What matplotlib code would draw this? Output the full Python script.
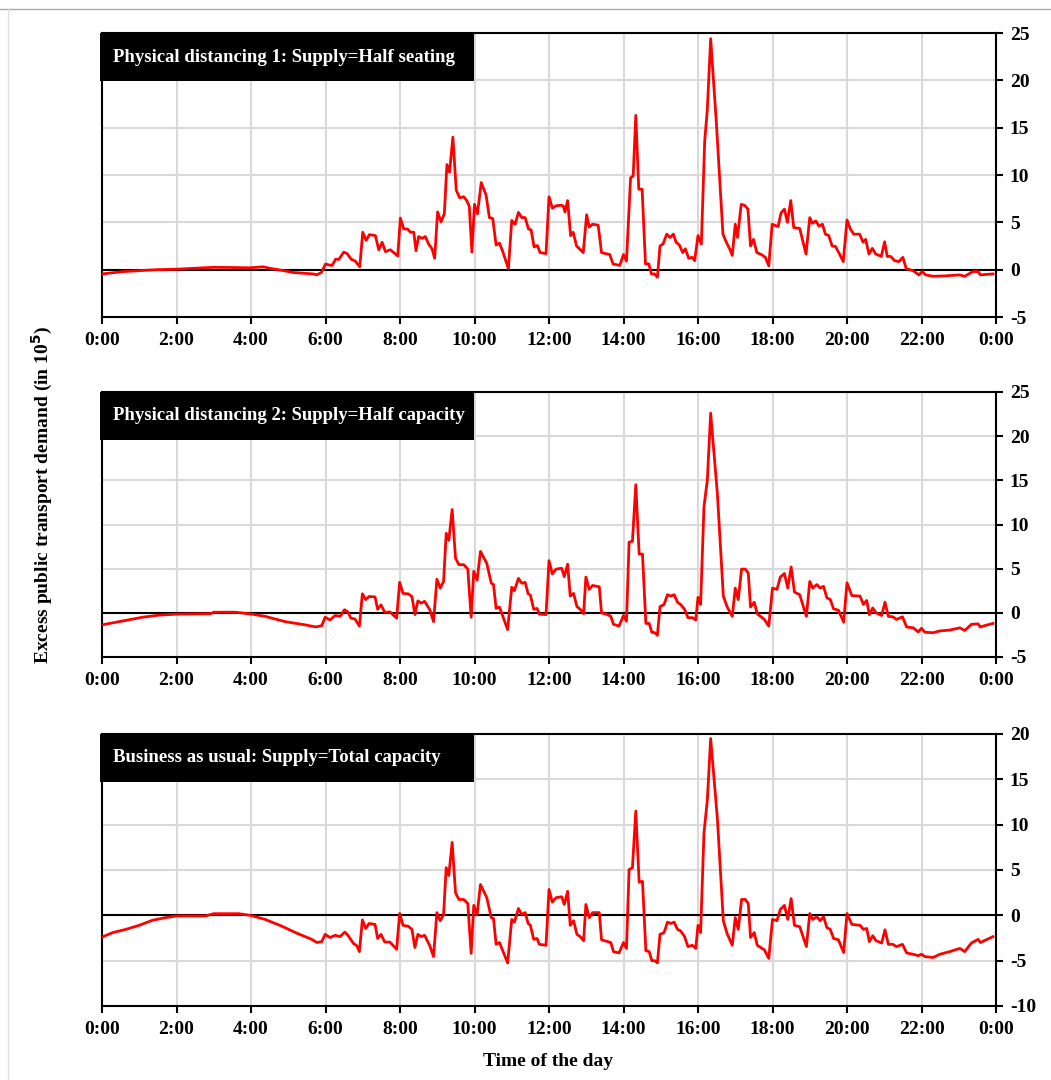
import matplotlib
matplotlib.use("Agg")
import matplotlib.pyplot as plt
from matplotlib.patches import Rectangle
from matplotlib.lines import Line2D

plt.rcParams['font.family'] = ['Liberation Serif', 'DejaVu Serif']
plt.rcParams['font.weight'] = 'bold'
plt.rcParams['axes.unicode_minus'] = False

# ---- data (hours of the day, excess demand in 10^5) ----
titles = ["Physical distancing 1: Supply=Half seating",
          "Physical distancing 2: Supply=Half capacity",
          "Business as usual: Supply=Total capacity"]

t1 = [0, 0.58, 1.47, 2.0, 3.0, 3.97, 4.33, 4.5, 4.87, 5.13, 5.67, 5.76, 5.89,
      6.0, 6.09, 6.18, 6.27, 6.36, 6.49, 6.58, 6.69, 6.8, 6.92, 7.0, 7.09, 7.18,
      7.34, 7.43, 7.52, 7.61, 7.74, 7.85, 7.94, 8.01, 8.1, 8.2, 8.28, 8.37, 8.43,
      8.5, 8.59, 8.68, 8.77, 8.86, 8.93, 9.01, 9.1, 9.19, 9.26, 9.33, 9.42, 9.51,
      9.6, 9.71, 9.79, 9.86, 9.93, 10.0, 10.08, 10.18, 10.31, 10.4, 10.49, 10.58,
      10.67, 10.76, 10.91, 11.0, 11.09, 11.18, 11.27, 11.36, 11.45, 11.52, 11.6,
      11.69, 11.76, 11.92, 12.0, 12.09, 12.19, 12.31, 12.38, 12.43, 12.5, 12.58,
      12.65, 12.74, 12.92, 13.01, 13.08, 13.17, 13.32, 13.41, 13.63, 13.72, 13.9,
      14.0, 14.08, 14.19, 14.26, 14.33, 14.41, 14.5, 14.59, 14.68, 14.75, 14.83,
      14.91, 14.98, 15.06, 15.16, 15.25, 15.34, 15.41, 15.5, 15.59, 15.66, 15.75,
      15.84, 15.91, 16.0, 16.09, 16.18, 16.25, 16.34, 16.49, 16.67, 16.76, 16.85,
      16.92, 17.0, 17.06, 17.16, 17.25, 17.34, 17.41, 17.49, 17.58, 17.7, 17.81,
      17.9, 17.99, 18.15, 18.23, 18.32, 18.4, 18.49, 18.57, 18.73, 18.9, 19.0,
      19.07, 19.16, 19.25, 19.34, 19.42, 19.51, 19.6, 19.69, 19.78, 19.9, 20.0,
      20.09, 20.18, 20.34, 20.43, 20.5, 20.59, 20.68, 20.77, 20.92, 21.01, 21.08,
      21.17, 21.28, 21.39, 21.5, 21.59, 21.77, 21.93, 22.02, 22.11, 22.31, 22.67,
      23.02, 23.16, 23.38, 23.52, 23.58, 23.92]
v1 = [-0.45, -0.2, 0.0, 0.05, 0.25, 0.2, 0.3, 0.15, -0.1, -0.3, -0.45, -0.55, -0.3,
      0.6, 0.5, 0.45, 1.1, 1.1, 1.85, 1.7, 1.1, 0.9, 0.3, 3.95, 3.1, 3.7,
      3.6, 2.1, 2.9, 1.9, 2.1, 1.75, 1.45, 5.45, 4.3, 4.3, 3.95, 3.95, 2.0,
      3.5, 3.3, 3.5, 2.7, 2.2, 1.2, 6.1, 5.05, 5.9, 11.1, 10.3, 14.0, 8.4,
      7.6, 7.7, 7.3, 6.7, 1.85, 6.9, 5.9, 9.2, 7.9, 5.5, 5.4, 2.6,
      2.8, 1.9, 0.1, 5.2, 4.8, 6.05, 5.5, 5.5, 4.3, 4.2, 2.4,
      2.55, 1.8, 1.7, 7.7, 6.5, 6.75, 6.8, 6.75, 6.1, 7.3, 3.6,
      3.95, 2.5, 1.8, 5.8, 4.5, 4.8, 4.7, 1.8, 1.6, 0.6, 0.45,
      1.6, 0.9, 9.7, 9.9, 16.3, 8.5, 8.5, 0.6, 0.6, -0.45, -0.45,
      -0.8, 2.5, 2.7, 3.75, 3.4, 3.75, 2.9, 2.6, 1.8, 2.2, 1.2,
      1.3, 0.95, 3.6, 2.7, 13.6, 16.9, 24.4, 15.7, 3.75, 2.9, 2.2,
      1.5, 4.8, 3.4, 6.9, 6.8, 6.4, 2.5, 3.2, 1.8, 1.6, 1.3,
      0.4, 4.8, 4.55, 6.0, 6.4, 5.0, 7.3, 4.45, 4.35, 1.65, 5.5,
      4.9, 5.15, 4.6, 4.8, 3.75, 3.6, 2.5, 2.45, 1.8, 0.85, 5.25,
      4.3, 3.75, 3.75, 2.9, 3.2, 1.65, 2.25, 1.65, 1.4, 2.95, 1.4,
      1.4, 0.95, 0.85, 1.3, 0.1, -0.1, -0.55, -0.2, -0.55, -0.7, -0.65,
      -0.55, -0.7, -0.2, -0.2, -0.55, -0.45]

t2 = [0, 0.46, 1.09, 1.53, 2.0, 2.91, 3.0, 3.58, 4.03, 4.38, 4.92, 5.45, 5.74,
      5.9, 5.99, 6.12, 6.26, 6.39, 6.51, 6.6, 6.68, 6.79, 6.91, 6.99, 7.08, 7.17,
      7.33, 7.4, 7.49, 7.59, 7.73, 7.91, 7.99, 8.08, 8.22, 8.32, 8.4, 8.48, 8.57,
      8.66, 8.8, 8.9, 8.99, 9.08, 9.17, 9.24, 9.31, 9.4, 9.49, 9.58, 9.71, 9.82,
      9.91, 9.98, 10.07, 10.16, 10.33, 10.45, 10.51, 10.58, 10.67, 10.89, 11.0,
      11.07, 11.18, 11.27, 11.36, 11.44, 11.5, 11.59, 11.68, 11.74, 11.92, 12.0,
      12.09, 12.19, 12.34, 12.41, 12.5, 12.57, 12.66, 12.75, 12.84, 12.93, 12.99,
      13.08, 13.17, 13.35, 13.41, 13.57, 13.66, 13.73, 13.88, 14.0, 14.08, 14.15,
      14.24, 14.33, 14.42, 14.51, 14.6, 14.69, 14.76, 14.84, 14.91, 14.98, 15.09,
      15.18, 15.27, 15.36, 15.45, 15.53, 15.64, 15.73, 15.85, 15.94, 16.0, 16.07,
      16.16, 16.25, 16.34, 16.52, 16.68, 16.78, 16.92, 17.0, 17.08, 17.17, 17.27,
      17.35, 17.41, 17.51, 17.59, 17.78, 17.9, 18.0, 18.12, 18.21, 18.32, 18.41,
      18.5, 18.59, 18.73, 18.91, 19.0, 19.08, 19.19, 19.28, 19.37, 19.46, 19.55,
      19.64, 19.77, 19.91, 20.0, 20.13, 20.35, 20.44, 20.53, 20.6, 20.69, 20.78,
      20.93, 21.02, 21.11, 21.23, 21.33, 21.49, 21.6, 21.78, 21.91, 22.0, 22.09,
      22.31, 22.49, 22.76, 23.03, 23.16, 23.34, 23.52, 23.58, 23.74, 23.92]
v2 = [-1.36, -1.0, -0.5, -0.26, -0.15, -0.1, 0.07, 0.07, -0.15, -0.4, -1.0, -1.36, -1.6,
      -1.45, -0.5, -0.8, -0.3, -0.4, 0.35, 0.1, -0.6, -0.7, -1.5, 2.15, 1.5, 1.85,
      1.8, 0.4, 0.9, 0.05, 0.1, -0.6, 3.45, 2.2, 2.15, 1.85, -0.2, 1.35, 1.1,
      1.3, 0.35, -1.0, 3.8, 2.8, 3.55, 9.0, 8.2, 11.7, 6.2, 5.45, 5.45, 4.95,
      -0.5, 4.7, 3.7, 6.95, 5.6, 3.35, 3.2, 0.5, 0.65, -1.9, 2.9,
      2.5, 3.9, 3.35, 3.45, 2.15, 2.0, 0.4, 0.5, -0.15, -0.2, 5.9,
      4.4, 4.95, 5.05, 4.1, 5.5, 1.9, 2.2, 0.7, 0.4, -0.1, 4.05,
      2.65, 3.1, 2.95, 0.0, -0.2, -0.4, -1.3, -1.5, -0.3, -0.95, 8.0,
      8.1, 14.5, 6.65, 6.65, -1.2, -1.2, -2.2, -2.25, -2.55, 0.7, 0.95,
      2.05, 1.9, 2.05, 1.2, 0.95, 0.4, -0.55, -0.55, -0.8, 1.75, 0.95,
      12.0, 15.0, 22.6, 13.5, 1.9, 0.7, -0.4, 2.8, 1.5, 4.95, 4.95,
      4.5, 0.65, 1.2, -0.1, -0.75, -1.5, 2.8, 2.65, 4.05, 4.45, 2.8,
      5.2, 2.35, 2.05, -0.4, 3.55, 2.8, 3.2, 2.8, 3.0, 1.7, 1.5,
      0.45, 0.3, -1.05, 3.4, 1.95, 1.9, 0.95, 1.4, -0.2, 0.55, 0.0,
      -0.3, 1.2, -0.4, -0.45, -0.75, -0.45, -1.6, -1.7, -2.15, -1.75, -2.2,
      -2.25, -2.05, -1.95, -1.7, -2.0, -1.3, -1.25, -1.6, -1.4, -1.2]

t3 = [0, 0.29, 0.64, 1.0, 1.35, 1.71, 2.0, 2.78, 3.0, 3.67, 3.98, 4.38, 4.83,
      5.19, 5.63, 5.77, 5.9, 5.99, 6.12, 6.26, 6.39, 6.52, 6.61, 6.75, 6.84, 6.91,
      6.99, 7.08, 7.17, 7.33, 7.4, 7.49, 7.59, 7.73, 7.91, 7.99, 8.08, 8.22, 8.32,
      8.4, 8.48, 8.57, 8.66, 8.8, 8.9, 8.99, 9.08, 9.17, 9.24, 9.31, 9.4, 9.49,
      9.58, 9.71, 9.82, 9.91, 9.98, 10.07, 10.16, 10.33, 10.45, 10.51, 10.58,
      10.67, 10.89, 11.0, 11.07, 11.18, 11.27, 11.36, 11.44, 11.5, 11.59, 11.68,
      11.74, 11.92, 12.0, 12.09, 12.19, 12.34, 12.41, 12.5, 12.57, 12.66, 12.75,
      12.84, 12.93, 12.99, 13.08, 13.17, 13.35, 13.41, 13.57, 13.66, 13.73, 13.88,
      14.0, 14.08, 14.15, 14.24, 14.33, 14.42, 14.51, 14.6, 14.69, 14.76, 14.84,
      14.91, 14.98, 15.09, 15.18, 15.27, 15.36, 15.45, 15.53, 15.64, 15.73, 15.85,
      15.94, 16.0, 16.07, 16.16, 16.25, 16.34, 16.52, 16.68, 16.78, 16.92, 17.0,
      17.08, 17.17, 17.27, 17.35, 17.41, 17.51, 17.59, 17.78, 17.9, 18.0, 18.12,
      18.21, 18.32, 18.41, 18.5, 18.59, 18.73, 18.91, 19.0, 19.08, 19.19, 19.28,
      19.37, 19.46, 19.55, 19.64, 19.77, 19.91, 20.0, 20.13, 20.35, 20.44, 20.53,
      20.6, 20.69, 20.78, 20.93, 21.02, 21.11, 21.23, 21.33, 21.49, 21.6, 21.78,
      21.91, 22.0, 22.09, 22.31, 22.49, 22.76, 23.03, 23.16, 23.34, 23.52, 23.58,
      23.74, 23.92]
v3 = [-2.4, -1.9, -1.55, -1.1, -0.55, -0.25, -0.07, -0.07, 0.18, 0.18, 0.0, -0.45, -1.2,
      -1.9, -2.65, -3.0, -2.9, -2.1, -2.45, -2.2, -2.35, -1.85, -2.25, -3.1, -3.35, -4.0,
      -0.5, -1.45, -0.9, -1.0, -2.55, -2.1, -2.95, -2.95, -3.75, 0.2, -1.1, -1.2, -1.55,
      -3.55, -2.1, -2.35, -2.2, -3.35, -4.55, 0.3, -0.6, 0.1, 5.25, 4.4, 8.05, 2.5,
      1.75, 1.75, 1.3, -4.2, 1.1, 0.1, 3.4, 1.95, -0.25, -0.35, -3.2,
      -3.0, -5.25, -0.45, -0.75, 0.75, 0.1, 0.3, -0.9, -1.1, -2.65, -2.55,
      -3.2, -3.3, 2.85, 1.45, 1.95, 2.05, 1.2, 2.65, -1.1, -0.6, -2.1,
      -2.35, -2.8, 1.2, -0.25, 0.3, 0.3, -2.7, -2.9, -3.0, -4.0, -4.15,
      -3.0, -3.65, 5.05, 5.25, 11.5, 3.65, 3.75, -3.9, -4.0, -5.0, -5.0,
      -5.25, -2.1, -1.9, -0.75, -0.9, -0.75, -1.55, -1.7, -2.35, -3.45, -3.3,
      -3.65, -1.1, -1.9, 9.05, 12.7, 19.5, 10.7, -0.6, -2.0, -3.3, -0.25,
      -1.55, 1.75, 1.75, 1.3, -2.45, -1.9, -3.3, -3.8, -4.75, -0.45, -0.6,
      0.65, 1.1, -0.45, 1.85, -1.1, -1.25, -3.45, 0.2, -0.45, -0.15, -0.6,
      -0.15, -1.35, -1.55, -2.55, -2.7, -4.1, 0.2, -1.0, -1.1, -1.55, -1.45,
      -2.9, -2.25, -2.8, -3.05, -1.6, -3.2, -3.2, -3.45, -3.2, -4.15, -4.3,
      -4.45, -4.3, -4.55, -4.65, -4.3, -4.0, -3.65, -4.0, -3.05, -2.65, -3.0,
      -2.7, -2.35]

series = [(t1, v1), (t2, v2), (t3, v3)]
ylims = [(-5, 25), (-5, 25), (-10, 20)]
hour_ticks = list(range(0, 25, 2))
hour_labels = ["%d:00" % (h % 24) for h in hour_ticks]

W, H = 1051, 1080
fig = plt.figure(figsize=(W / 100, H / 100), dpi=100)

# axes boxes in pixels: (left, top, right, bottom)
boxes = [(102, 33, 996, 317), (102, 392, 996, 657), (102, 734, 996, 1006)]

for (t, v), title, (ylo, yhi), (l, tp, r, b) in zip(series, titles, ylims, boxes):
    ax = fig.add_axes([l / W, 1 - b / H, (r - l) / W, (b - tp) / H])
    ax.plot(t, v, color='#ff0000', lw=2.0, zorder=3)
    ax.axhline(0, color='black', lw=1.5, zorder=2)
    ax.set_xlim(0, 24)
    ax.set_ylim(ylo, yhi)
    ax.set_xticks(hour_ticks)
    ax.set_xticklabels(hour_labels)
    ax.set_yticks(range(ylo, yhi + 1, 5))
    ax.yaxis.tick_right()
    ax.grid(True, color='#d9d9d9', lw=1.5, zorder=0)
    ax.set_axisbelow(True)
    ax.tick_params(axis='both', direction='out', length=5, width=1.5,
                   labelsize=14, colors='black')
    ax.tick_params(axis='x', pad=6)
    ax.tick_params(axis='y', pad=5)
    for lab in ax.get_xticklabels() + ax.get_yticklabels():
        lab.set_fontweight('bold')
    for sp in ax.spines.values():
        sp.set_linewidth(1.5)
        sp.set_color('black')

    # black title box in the top-left corner
    bh = 48
    fig.patches.append(Rectangle((100 / W, 1 - (tp + bh) / H), 374 / W, bh / H,
                                 transform=fig.transFigure, facecolor='black',
                                 edgecolor='none', zorder=5))
    fig.text(113 / W, 1 - (tp + bh / 2) / H, title, color='white',
             fontsize=13.5, fontweight='bold', va='center', ha='left', zorder=6)

fig.text(42 / W, 1 - 495 / H, r"Excess public transport demand (in 10$^{\mathbf{5}}$)",
         rotation=90, fontsize=14, fontweight='bold', va='center', ha='center')
fig.text(548 / W, 1 - 1062 / H, "Time of the day", fontsize=14,
         fontweight='bold', va='center', ha='center')

# thin page border lines
fig.add_artist(Line2D([0, 1], [1 - 9 / H, 1 - 9 / H], transform=fig.transFigure,
                      color='#aaaaaa', lw=1))
fig.add_artist(Line2D([8 / W, 8 / W], [0, 1 - 9 / H], transform=fig.transFigure,
                      color='#dddddd', lw=1))

fig.savefig("out.png", dpi=100)
